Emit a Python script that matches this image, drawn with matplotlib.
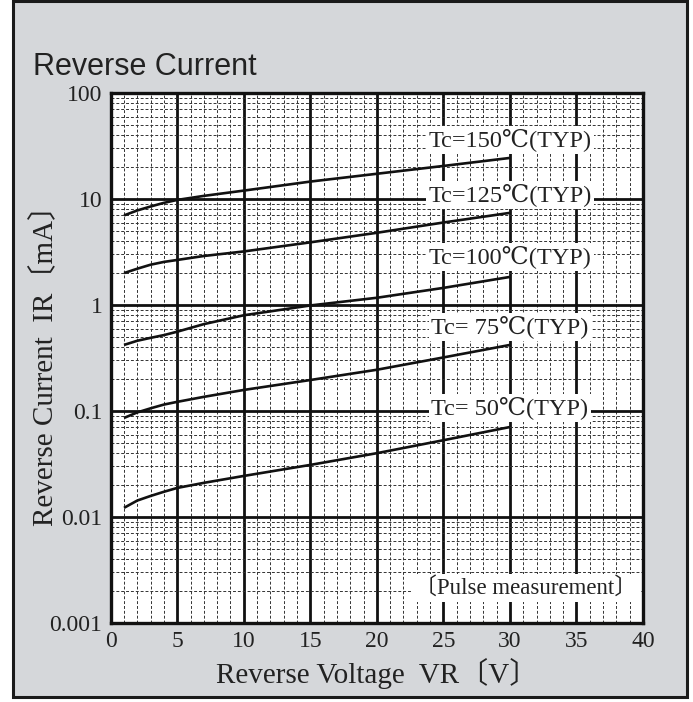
import matplotlib
matplotlib.use('Agg')
import matplotlib.pyplot as plt
from matplotlib.patches import Rectangle
from matplotlib.ticker import FixedLocator, LogLocator, NullFormatter

# Reverse voltage points (V)
voltage = [1, 2, 3, 4, 5, 7, 10, 15, 20, 25, 30]

# Reverse current for each case temperature (mA)
ir_150 = [7.0, 7.8, 8.5, 9.2, 9.8, 10.7, 12.0, 14.6, 17.3, 20.5, 24.4]
ir_125 = [2.0, 2.2, 2.4, 2.55, 2.66, 2.9, 3.2, 3.9, 4.8, 6.0, 7.4]
ir_100 = [0.42, 0.46, 0.49, 0.52, 0.56, 0.66, 0.80, 0.99, 1.17, 1.45, 1.84]
ir_75 = [0.086, 0.097, 0.106, 0.115, 0.122, 0.136, 0.158, 0.196, 0.245, 0.32, 0.42]
ir_50 = [0.0122, 0.0143, 0.0158, 0.0173, 0.0188, 0.021, 0.0244, 0.031, 0.040, 0.053, 0.0706]

curve_labels = ['Tc=150℃(TYP)', 'Tc=125℃(TYP)', 'Tc=100℃(TYP)', 'Tc= 75℃(TYP)', 'Tc= 50℃(TYP)']
label_levels = [36, 10.9, 2.84, 0.62, 0.107]

x_ticks = [0, 5, 10, 15, 20, 25, 30, 35, 40]
y_ticks = [0.001, 0.01, 0.1, 1, 10, 100]
y_tick_labels = ['0.001', '0.01', '0.1', '1', '10', '100']

serif = ['Liberation Serif', 'DejaVu Serif', 'DejaVu Sans']
bracket_font = ['Liberation Serif', 'Noto Sans CJK JP', 'DejaVu Sans']

W, H = 693, 702
fig = plt.figure(figsize=(W / 100, H / 100), dpi=100, facecolor='white')

# grey panel with dark frame, kept behind the axes
fig.patches.append(Rectangle((13 / W, 5 / H), 674 / W, 696 / H, transform=fig.transFigure,
                             facecolor='#d5d7da', edgecolor='#1a1a1a', linewidth=2.2, zorder=-5))

fig.text(33 / W, 1 - 75 / H, 'Reverse Current', family=['Liberation Sans'], fontsize=22,
         color='#222222', ha='left', va='baseline')

ax = fig.add_axes([110.7 / W, 1 - 623 / H, 532.3 / W, 530 / H])
ax.set_facecolor('white')
ax.set_xlim(0, 40)
ax.set_yscale('log')
ax.set_ylim(0.001, 100)

ax.xaxis.set_major_locator(FixedLocator(x_ticks))
ax.xaxis.set_minor_locator(FixedLocator(range(0, 41)))
ax.yaxis.set_major_locator(FixedLocator(y_ticks))
ax.yaxis.set_minor_locator(LogLocator(base=10, subs=range(2, 10), numticks=20))
ax.yaxis.set_minor_formatter(NullFormatter())
ax.set_xticklabels([str(t) for t in x_ticks])
ax.set_yticklabels(y_tick_labels)

ax.grid(which='minor', color='#333333', linewidth=0.7, linestyle=(0, (3, 2)))
ax.grid(which='major', color='#111111', linewidth=2.0, linestyle='-')
ax.set_axisbelow(True)
ax.tick_params(which='both', length=0)
ax.tick_params(axis='x', pad=6)
ax.tick_params(axis='y', pad=6)
for lab in ax.get_xticklabels() + ax.get_yticklabels():
    lab.set_family(serif)
    lab.set_fontsize(17)
    lab.set_color('#222222')
for sp in ax.spines.values():
    sp.set_linewidth(2.4)
    sp.set_color('#111111')

for ir in [ir_150, ir_125, ir_100, ir_75, ir_50]:
    ax.plot(voltage, ir, color='#111111', linewidth=1.9, zorder=3, solid_capstyle='butt')

for text, lvl in zip(curve_labels, label_levels):
    ax.text(30, lvl, text, family=serif, fontsize=17.5, color='#222222', ha='center', va='center',
            zorder=4, bbox=dict(facecolor='white', edgecolor='none', pad=1.5))

ax.text(31.2, 0.00214, '〔Pulse measurement〕', family=bracket_font, fontsize=16.5, color='#222222',
        ha='center', va='center', zorder=4, bbox=dict(facecolor='white', edgecolor='none', pad=2))

ax.set_xlabel('Reverse Voltage  VR〔V〕', family=bracket_font, fontsize=21, color='#222222', labelpad=4)
ax.set_ylabel('Reverse Current  IR〔mA〕', family=bracket_font, fontsize=21, color='#222222', labelpad=-6)

fig.savefig('out.png', dpi=100, facecolor=fig.get_facecolor())
